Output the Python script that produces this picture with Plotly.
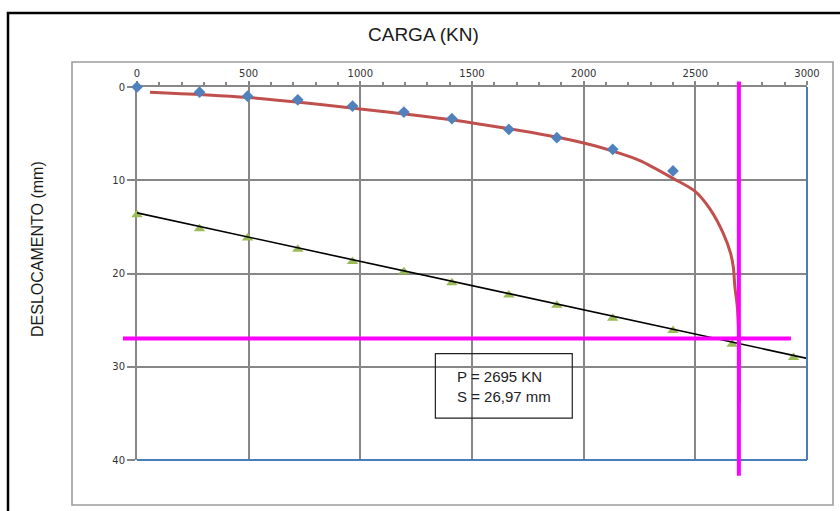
import plotly.graph_objects as go

# Load test readings: load (kN) vs settlement (mm)
carga = [0, 280, 495, 720, 965, 1195, 1410, 1665, 1880, 2130, 2400]
deslocamento = [0, 0.55, 0.98, 1.37, 2.05, 2.69, 3.4, 4.55, 5.43, 6.68, 9.0]

# Linearised points used for the extrapolation
carga_lin = [0, 280, 495, 720, 965, 1195, 1410, 1665, 1880, 2130, 2400, 2665, 2940]
desloc_lin = [13.7, 15.2, 16.2, 17.4, 18.7, 19.8, 21.0, 22.3, 23.4, 24.8, 26.1, 27.6, 29.0]

# Fitted load-settlement curve
curva_carga = [58, 498, 1090, 1502, 2000, 2166, 2252, 2400, 2499, 2566, 2624, 2658, 2670, 2677, 2688, 2694, 2696, 2697]
curva_desloc = [0.55, 1.12, 2.6, 3.85, 6.0, 7.14, 7.9, 9.8, 11.2, 13.1, 15.65, 17.85, 19.3, 21.4, 23.6, 26.5, 30.0, 33.9]

# Straight line through the linearised points
reta_carga = [0, 3000]
reta_desloc = [13.5, 29.1]

# Failure load and settlement
P_rup = 2695
S_rup = 26.97

# Extent of the marker lines
linha_h_carga = [-63, 2928]
linha_v_desloc = [-0.6, 41.7]

x_ticks = [0, 500, 1000, 1500, 2000, 2500, 3000]
y_ticks = [0, 10, 20, 30, 40]

W, H = 840, 511
L, R, T, B = 137, 33, 87, 51
X_RANGE = [0, 3000]
Y_RANGE = [40, 0]


def px_x(p):
    return (p - L) / (W - L - R)


def px_y(p):
    return (H - B - p) / (H - T - B)


def data_to_paper_x(v):
    return (v - X_RANGE[0]) / (X_RANGE[1] - X_RANGE[0])


def data_to_paper_y(v):
    return (Y_RANGE[0] - v) / (Y_RANGE[0] - Y_RANGE[1])


GRID = "#878787"
fig = go.Figure()

fig.add_trace(go.Scatter(
    x=curva_carga, y=curva_desloc, mode="lines",
    line=dict(color="#C0504D", width=3, shape="spline", smoothing=0.9),
    hoverinfo="skip"))
fig.add_trace(go.Scatter(
    x=carga, y=deslocamento, mode="markers", cliponaxis=False,
    marker=dict(symbol="diamond", size=9, color="#4F81BD")))
fig.add_trace(go.Scatter(
    x=carga_lin, y=desloc_lin, mode="markers", cliponaxis=False,
    marker=dict(symbol="triangle-up", size=10, color="#9BBB59")))
fig.add_trace(go.Scatter(
    x=reta_carga, y=reta_desloc, mode="lines",
    line=dict(color="black", width=1.6), hoverinfo="skip"))

shapes = [
    # outer frame of the chart
    dict(type="rect", xref="paper", yref="paper",
         x0=px_x(8), x1=px_x(860), y0=px_y(530), y1=px_y(13),
         line=dict(color="black", width=2.5)),
    # plot area frame
    dict(type="rect", xref="paper", yref="paper",
         x0=px_x(72), x1=px_x(833), y0=px_y(505), y1=px_y(62),
         line=dict(color="#9C9C9C", width=1.6)),
    # blue closing edges of the grid
    dict(type="line", xref="paper", yref="paper", x0=1, x1=1, y0=0, y1=1,
         line=dict(color="#4A7EBB", width=2)),
    dict(type="line", xref="paper", yref="paper", x0=0, x1=1, y0=0, y1=0,
         line=dict(color="#4A7EBB", width=2)),
    # failure load / settlement markers
    dict(type="line", xref="x", yref="paper", x0=P_rup, x1=P_rup,
         y0=data_to_paper_y(linha_v_desloc[0]), y1=data_to_paper_y(linha_v_desloc[1]),
         line=dict(color="#FF00FF", width=4), layer="above"),
    dict(type="line", xref="paper", yref="y", y0=S_rup, y1=S_rup,
         x0=data_to_paper_x(linha_h_carga[0]), x1=data_to_paper_x(linha_h_carga[1]),
         line=dict(color="#FF00FF", width=4), layer="above"),
    # result box
    dict(type="rect", xref="x", yref="y", x0=1336, x1=1949, y0=28.6, y1=35.5,
         line=dict(color="#222222", width=1.2)),
]

annotations = [
    dict(text="CARGA (KN)", xref="paper", yref="paper", x=px_x(423), y=px_y(35),
         xanchor="center", yanchor="middle", showarrow=False,
         font=dict(family="Liberation Sans", size=19, color="#1a1a1a")),
    dict(text="DESLOCAMENTO (mm)", xref="paper", yref="paper", x=px_x(38), y=px_y(249),
         xanchor="center", yanchor="middle", showarrow=False, textangle=-90,
         font=dict(family="Liberation Sans", size=16, color="#1a1a1a")),
    dict(text="P = %d KN<br>S = %s mm" % (P_rup, ("%.2f" % S_rup).replace(".", ",")),
         xref="x", yref="y", x=1425, y=32.1, xanchor="left", yanchor="middle",
         align="left", showarrow=False,
         font=dict(family="Liberation Sans", size=15, color="#222222")),
]

fig.update_layout(
    width=W, height=H,
    margin=dict(l=L, r=R, t=T, b=B, pad=0),
    paper_bgcolor="white", plot_bgcolor="white",
    showlegend=False,
    shapes=shapes, annotations=annotations,
    xaxis=dict(
        range=X_RANGE, side="top", tickvals=x_ticks,
        showgrid=True, gridcolor=GRID, gridwidth=2,
        showline=True, linecolor=GRID, linewidth=2,
        ticks="outside", ticklen=4, tickcolor=GRID, tickwidth=1.5,
        minor=dict(dtick=100, ticks="outside", ticklen=3, tickcolor=GRID, showgrid=False),
        tickfont=dict(family="DejaVu Sans", size=10, color="#333333"),
        zeroline=False, layer="below traces", fixedrange=True),
    yaxis=dict(
        range=Y_RANGE, tickvals=y_ticks,
        showgrid=True, gridcolor=GRID, gridwidth=2,
        showline=True, linecolor=GRID, linewidth=2,
        ticks="outside", ticklen=8, tickcolor=GRID, tickwidth=1.5,
        tickfont=dict(family="DejaVu Sans", size=10, color="#333333"),
        zeroline=False, layer="below traces", fixedrange=True),
)

fig.write_html("out.html")
